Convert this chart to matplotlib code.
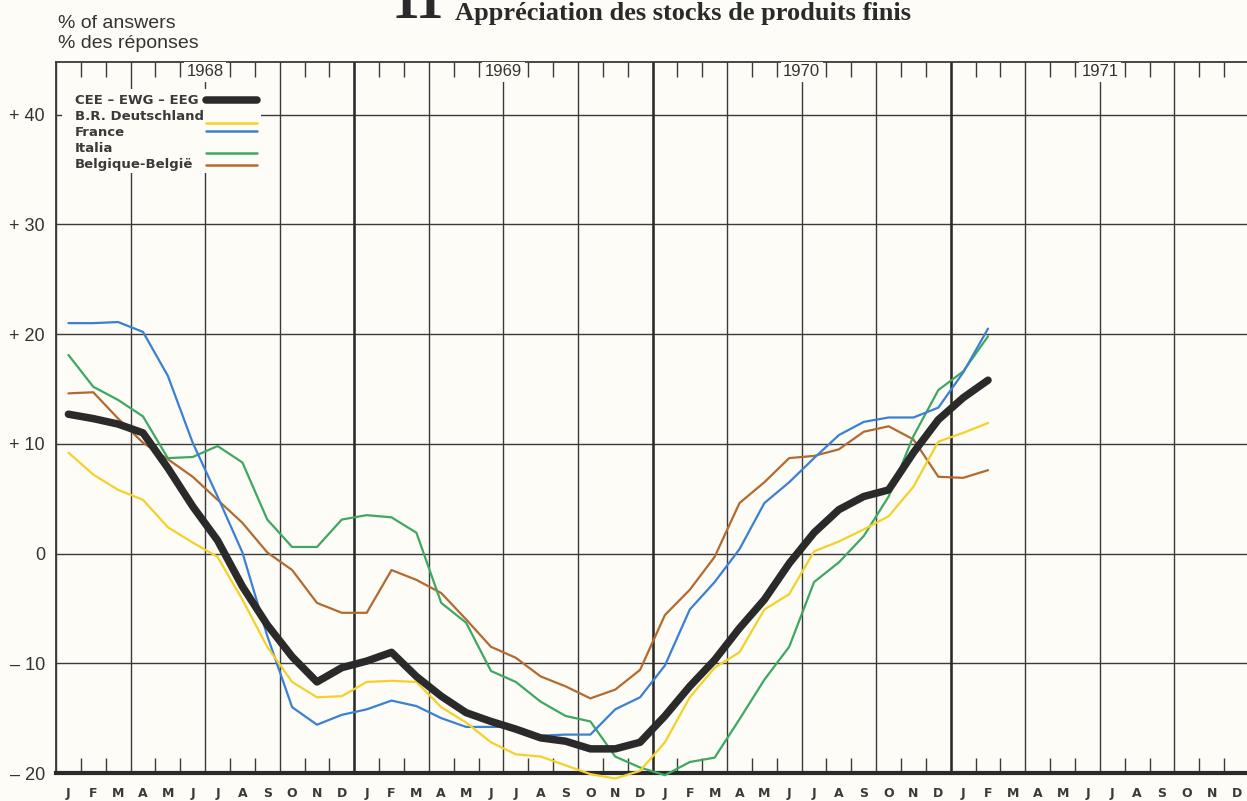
import numpy as np
import matplotlib.pyplot as plt
from matplotlib.patches import Rectangle

# month letters for 1968-1971 and the year captions
month_labels = list("JFMAMJJASOND") * 4
years = ["1968", "1969", "1970", "1971"]

# monthly survey balances, Jan 1968 .. Feb 1971 (% of answers)
cee = [12.7, 12.3, 11.8, 11.0, 7.8, 4.3, 1.2, -3.0, -6.5, -9.4, -11.7, -10.4,
       -9.8, -9.0, -11.2, -13.0, -14.5, -15.3, -16.0, -16.8, -17.1, -17.8, -17.8, -17.2,
       -14.8, -12.1, -9.7, -6.8, -4.2, -0.9, 1.9, 4.0, 5.2, 5.8, 9.2, 12.2,
       14.2, 15.8]
deutschland = [9.2, 7.2, 5.8, 4.9, 2.4, 1.0, -0.3, -4.2, -8.5, -11.7, -13.1, -13.0,
               -11.7, -11.6, -11.7, -14.0, -15.4, -17.2, -18.3, -18.5, -19.3, -20.1, -20.5, -19.8,
               -17.2, -13.1, -10.4, -9.0, -5.1, -3.7, 0.2, 1.1, 2.2, 3.4, 6.1, 10.2,
               11.0, 11.9]
france = [21.0, 21.0, 21.1, 20.2, 16.2, 10.1, 5.2, 0.1, -7.5, -14.0, -15.6, -14.7,
          -14.2, -13.4, -13.9, -15.0, -15.8, -15.8, -15.8, -16.6, -16.5, -16.5, -14.2, -13.1,
          -10.2, -5.1, -2.6, 0.4, 4.6, 6.5, 8.7, 10.8, 12.0, 12.4, 12.4, 13.3,
          16.5, 20.5]
italia = [18.1, 15.2, 14.0, 12.5, 8.7, 8.8, 9.8, 8.3, 3.1, 0.6, 0.6, 3.1,
          3.5, 3.3, 1.9, -4.5, -6.3, -10.7, -11.7, -13.5, -14.8, -15.3, -18.5, -19.5,
          -20.2, -19.0, -18.6, -15.1, -11.5, -8.5, -2.6, -0.8, 1.6, 5.2, 10.7, 14.9,
          16.6, 19.8]
belgique = [14.6, 14.7, 12.3, 10.1, 8.6, 7.0, 4.9, 2.8, 0.1, -1.5, -4.5, -5.4,
            -5.4, -1.5, -2.4, -3.6, -6.0, -8.5, -9.5, -11.2, -12.1, -13.2, -12.4, -10.6,
            -5.6, -3.3, -0.3, 4.6, 6.5, 8.7, 8.9, 9.5, 11.1, 11.6, 10.4, 7.0,
            6.9, 7.6]

series = [
    ("CEE – EWG – EEG", cee, "#2b2a2a", 5.4),
    ("B.R. Deutschland", deutschland, "#f4d12a", 1.6),
    ("France", france, "#3b80d2", 1.6),
    ("Italia", italia, "#3ea862", 1.6),
    ("Belgique-België", belgique, "#b36a2f", 1.6),
]

bg = "#fdfcf6"
grid_c = "#3a3a3a"

W, H = 1247, 801
fig = plt.figure(figsize=(W / 100, H / 100), dpi=100, facecolor=bg)
ax = fig.add_axes([56 / W, (H - 773) / H, (1249 - 56) / W, (773 - 62) / H])
ax.set_facecolor(bg)
ax.set_xlim(0, 48)
ax.set_ylim(-20, 44.8)

# grid: quarters and years vertically, every 10 % horizontally
ax.set_xticks(np.arange(0, 49, 3))
ax.set_xticks(np.arange(0, 49, 1), minor=True)
ax.set_yticks(np.arange(-20, 41, 10))
ax.set_yticklabels(["– 20", "– 10", "0", "+ 10", "+ 20", "+ 30", "+ 40"],
                   fontsize=13, family="Liberation Sans", color="#333333")
ax.set_xticklabels([])
ax.tick_params(axis="x", which="major", length=0)
ax.tick_params(axis="x", which="minor", direction="in", length=11, width=1.0,
               color=grid_c, top=True, bottom=True)
ax.tick_params(axis="y", length=0, pad=8)
ax.grid(True, which="major", color=grid_c, lw=1.0)
for yr in range(1, 4):
    ax.axvline(12 * yr, color="#2a2a2a", lw=1.8, zorder=1)

for side in ["top", "left"]:
    ax.spines[side].set_color(grid_c)
    ax.spines[side].set_linewidth(1.3)
ax.spines["right"].set_visible(False)
ax.spines["bottom"].set_color("#2a2a2a")
ax.spines["bottom"].set_linewidth(3.0)
ax.set_axisbelow(True)

# month letters under the axis
for i, m in enumerate(month_labels):
    ax.text(i + 0.5, -21.9, m, ha="center", va="center", fontsize=9,
            fontweight="bold", color="#3a3a3a", family="DejaVu Sans")

# year captions over the mid-year grid lines
for i, yr in enumerate(years):
    ax.text(12 * i + 6, 43.9, yr, ha="center", va="center", fontsize=12,
            family="Liberation Sans", color="#333333", zorder=3,
            bbox=dict(boxstyle="square,pad=0.15", fc=bg, ec="none"))

# data lines
x = np.arange(len(cee)) + 0.5
for name, vals, col, lw in series[::-1]:
    ax.plot(x, vals, color=col, lw=lw, solid_joinstyle="round",
            solid_capstyle="round", clip_on=False, zorder=4 if lw > 2 else 3)

# legend block: names left, line samples to the right
ax.add_patch(Rectangle((0.24, 34.7), 8.0, 7.6, fc=bg, ec="none", zorder=2))
text_y = [41.3, 39.8, 38.4, 36.9, 35.5]
sample_y = [41.3, 39.2, 38.5, 36.55, 35.4]
for (name, vals, col, lw), ty, sy in zip(series, text_y, sample_y):
    ax.text(0.76, ty, name, ha="left", va="center", fontsize=9.5,
            fontweight="bold", color="#3a3a3a",
            family=["Liberation Sans Narrow", "DejaVu Sans"], zorder=5)
    ax.plot([6.05, 8.1], [sy, sy], color=col, lw=lw if lw > 2 else 1.8,
            solid_capstyle="round", zorder=5)

# titles
fig.text(58 / W, 1 - 28 / H, "% of answers", fontsize=14,
         family="Liberation Sans", color="#333333", va="baseline")
fig.text(58 / W, 1 - 48 / H, "% des réponses", fontsize=14,
         family="Liberation Sans", color="#333333", va="baseline")
fig.text(418 / W, 1 - 18 / H, "11", fontsize=40, fontweight="bold",
         family="Liberation Serif", color="#2a2a2a", ha="center", va="baseline")
fig.text(455 / W, 1 - 20 / H, "Appréciation des stocks de produits finis",
         fontsize=19, fontweight="bold", family="Liberation Serif",
         color="#2a2a2a", ha="left", va="baseline")

fig.savefig("out.png", dpi=100, facecolor=bg)
